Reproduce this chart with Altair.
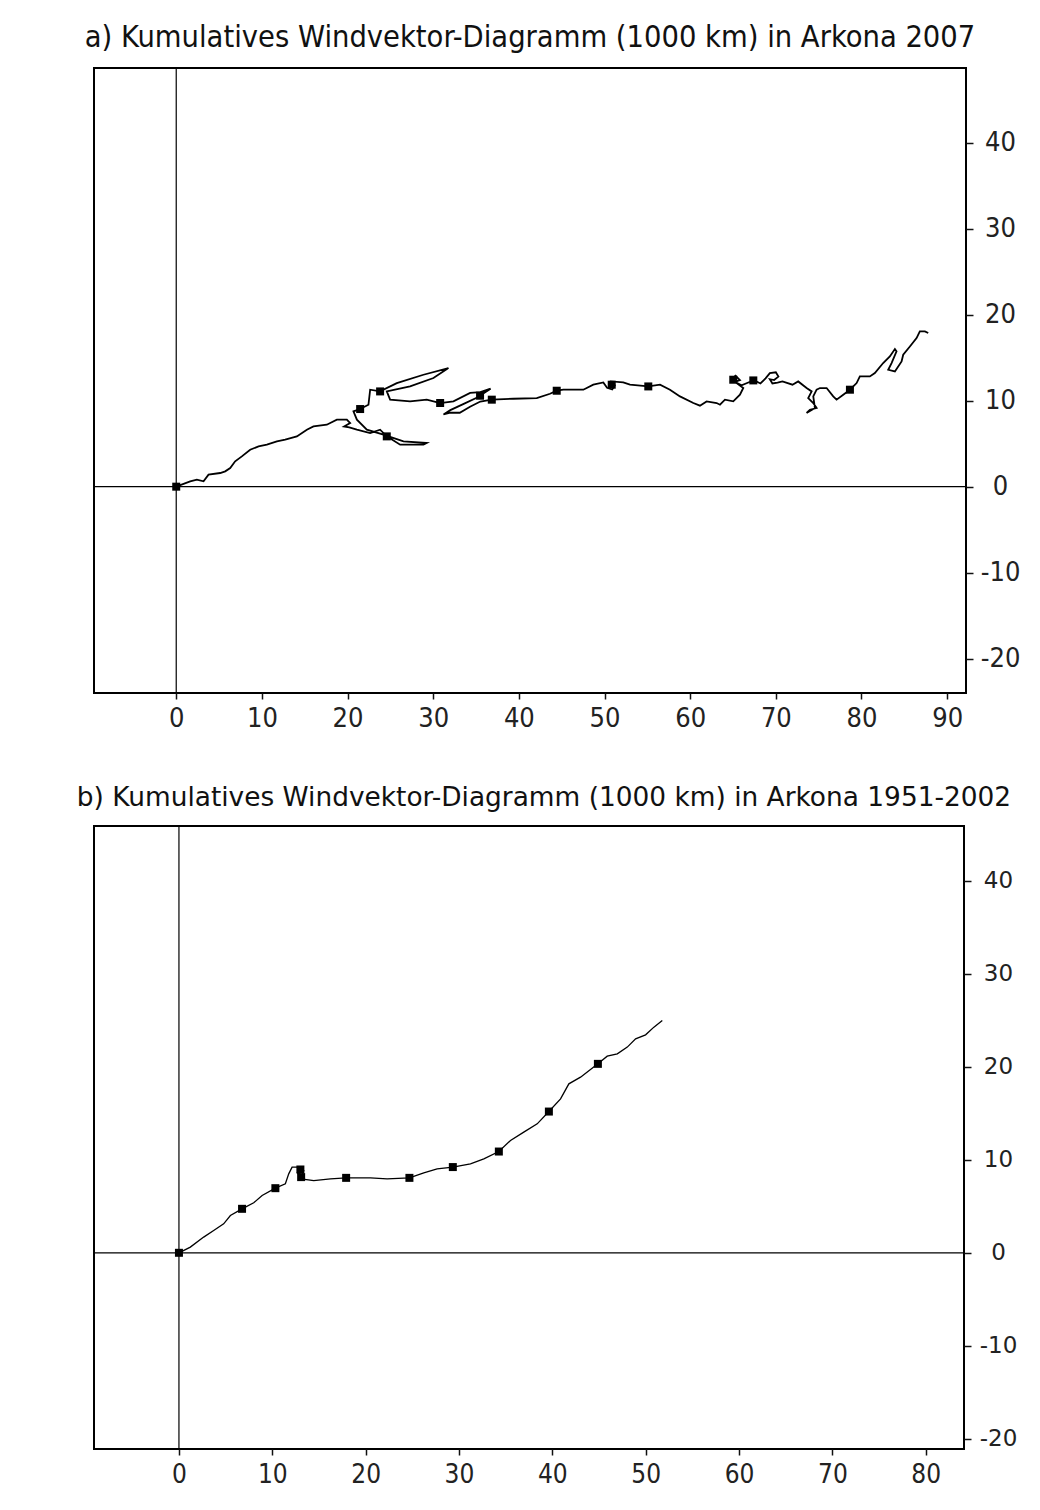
import altair as alt
import pandas as pd

# ---- a) Arkona 2007 : cumulative wind vector path (1000 km)
a_x = [0, 1.63, 2.41, 3.19, 3.77, 5.13, 5.72, 6.30, 6.88, 7.66, 8.63, 9.61, 10.58, 11.75, 12.72,
       14.08, 15.25, 16.02, 17.58, 18.75, 19.92, 20.30, 19.6, 20.2, 21.09, 22.64, 23.80, 24.58,
       26.14, 28.86, 29.25, 26.53, 24.19, 22.25, 21.09, 20.69, 21.47, 22.44, 22.64, 23.80, 25.75,
       28.86, 31.78, 30.03, 27.30, 24.58, 24.97, 27.30, 29.25, 30.81, 32.36, 34.31, 35.5, 36.7,
       35.8, 35.2, 33.5, 32.0, 31.2, 32.0, 33.1, 34.3, 35.5, 36.84, 39.36, 42.09, 43.64, 44.42,
       45.19, 47.53, 48.69, 49.86, 50.3, 50.9, 51.2, 50.84, 52.19, 52.97, 55.11, 56.48, 57.64,
       58.81, 60.37, 61.14, 61.92, 63.09, 63.48, 64.06, 65.03, 65.81, 66.20, 65.5, 64.9, 65.3,
       65.8, 65.2, 66.0, 67.0, 67.4, 68.2, 68.8, 69.3, 70.0, 70.3, 69.8, 69.3, 69.6, 70.2, 70.77,
       71.94, 72.61, 73.59, 74.18, 73.78, 74.37, 74.76, 73.98, 73.59, 74.56, 74.37, 74.76, 75.15,
       75.93, 76.70, 77.09, 77.87, 78.65, 79.43, 79.81, 80.98, 81.56, 82.53, 83.31, 83.90, 84.09,
       83.51, 83.12, 83.90, 84.68, 84.87, 85.65, 86.43, 86.81, 87.40, 87.79]
a_y = [0, 0.62, 0.81, 0.62, 1.40, 1.59, 1.78, 2.17, 2.95, 3.52, 4.30, 4.69, 4.88, 5.27, 5.47,
       5.85, 6.63, 7.01, 7.21, 7.79, 7.79, 7.40, 7.0, 6.9, 6.63, 6.24, 6.63, 5.85,
       4.88, 4.88, 5.08, 5.27, 6.05, 6.63, 7.79, 8.76, 9.03, 9.53, 11.28, 11.08, 12.05,
       13.02, 13.80, 12.64, 11.66, 11.08, 10.12, 9.92, 10.12, 9.73, 9.92, 10.90, 11.0, 11.4,
       10.8, 10.4, 9.6, 8.9, 8.4, 8.6, 8.6, 9.3, 9.9, 10.12, 10.23, 10.31, 10.81, 11.16,
       11.28, 11.28, 11.86, 12.13, 11.5, 11.3, 11.8, 12.24, 12.13, 11.86, 11.66, 11.86, 11.28,
       10.50, 9.73, 9.42, 9.92, 9.73, 9.53, 10.12, 9.92, 10.70, 11.48, 12.0, 12.6, 12.9,
       12.4, 12.2, 11.8, 12.2, 12.4, 12.0, 12.6, 13.2, 13.3, 12.8, 12.4, 12.5, 12.0, 12.1, 12.24,
       11.86, 12.24, 11.47, 11.08, 10.31, 9.73, 9.15, 8.95, 8.57, 9.15, 10.50, 11.28, 11.47,
       11.47, 10.50, 10.12, 10.70, 11.28, 12.05, 12.83, 12.83, 13.22, 14.38, 15.15, 16.01, 15.74,
       14.38, 13.60, 13.41, 14.57, 15.35, 16.31, 17.29, 18.06, 18.06, 17.87]
a_mx = [0, 21.47, 23.80, 24.58, 30.81, 35.47, 36.84, 44.42, 50.84, 55.11, 65.03, 67.37, 78.65]
a_my = [0, 9.03, 11.08, 5.85, 9.73, 10.58, 10.12, 11.16, 11.86, 11.66, 12.44, 12.36, 11.28]

# ---- b) Arkona 1951-2002
b_x = [0, 1.22, 2.65, 3.72, 4.79, 5.51, 6.76, 8.01, 8.91, 10.33, 11.40, 11.76, 12.12, 12.83,
       13.37, 13.19, 12.66, 13.09, 14.44, 16.23, 17.91, 20.51, 22.30, 24.69, 26.23, 27.66, 29.34,
       31.23, 32.66, 34.27, 35.52, 36.94, 38.38, 39.63, 40.88, 41.77, 43.02, 44.88, 45.88, 46.96,
       48.03, 48.92, 49.99, 50.88, 51.78]
b_y = [0, 0.61, 1.69, 2.40, 3.12, 4.01, 4.73, 5.38, 6.16, 6.95, 7.42, 8.49, 9.21, 9.21,
       8.85, 8.31, 8.68, 7.96, 7.77, 7.96, 8.06, 8.06, 7.96, 8.06, 8.60, 9.03, 9.22,
       9.57, 10.11, 10.89, 12.08, 12.98, 13.87, 15.19, 16.56, 18.17, 18.89, 20.32, 21.15, 21.40,
       22.12, 23.01, 23.44, 24.27, 24.98]
b_mx = [0, 6.76, 10.33, 13.01, 13.09, 17.91, 24.69, 29.34, 34.27, 39.63, 44.88]
b_my = [0, 4.73, 6.95, 8.96, 8.14, 8.06, 8.06, 9.22, 10.89, 15.19, 20.32]

a_xticks = [0, 10, 20, 30, 40, 50, 60, 70, 80, 90]
b_xticks = [0, 10, 20, 30, 40, 50, 60, 70, 80]
yticks = [-20, -10, 0, 10, 20, 30, 40]

title_a = "a) Kumulatives Windvektor-Diagramm (1000 km) in Arkona 2007"
title_b = "b) Kumulatives Windvektor-Diagramm (1000 km) in Arkona 1951-2002"

COND = "DejaVu Sans Condensed"
REG = "DejaVu Sans"


def panel(px, py, mx, my, xdom, ydom, xticks, w, h, title, tfont, tsize, tdx, xfont, xsize,
          yfont, ysize, lw):
    path = pd.DataFrame({"x": px, "y": py, "i": list(range(len(px)))})
    marks = pd.DataFrame({"x": mx, "y": my})
    vline = pd.DataFrame({"x": [0]})
    hline = pd.DataFrame({"y": [0]})
    xs = alt.Scale(domain=xdom, nice=False, zero=False)
    ys = alt.Scale(domain=ydom, nice=False, zero=False)
    xax = alt.Axis(values=xticks, grid=False, domain=False, tickSize=6, tickColor="#111",
                   tickWidth=1.5, labelFont=xfont, labelFontSize=xsize, labelColor="#222",
                   labelPadding=6, title=None, labelFlush=False,
                   labelExpr="'' + datum.value")
    yax = alt.Axis(values=yticks, orient="right", grid=False, domain=False, tickSize=7,
                   tickColor="#111", tickWidth=1.5, labelFont=yfont, labelFontSize=ysize,
                   labelColor="#222", labelAlign="center", labelPadding=27, title=None,
                   labelFlush=False, labelExpr="'' + datum.value")
    X = alt.X("x:Q", scale=xs, axis=xax)
    Y = alt.Y("y:Q", scale=ys, axis=yax)
    v = alt.Chart(vline).mark_rule(color="black", strokeWidth=1.2).encode(x=X)
    hz = alt.Chart(hline).mark_rule(color="black", strokeWidth=1.2).encode(y=Y)
    ln = alt.Chart(path).mark_line(color="black", strokeWidth=lw, strokeJoin="miter").encode(
        x=X, y=Y, order="i:Q")
    pt = alt.Chart(marks).mark_square(color="black", size=64, opacity=1).encode(x=X, y=Y)
    return alt.layer(v, hz, ln, pt).properties(
        width=w, height=h,
        title=alt.TitleParams(title, font=tfont, fontSize=tsize, fontWeight="normal",
                              color="#111", offset=14, anchor="middle", dx=tdx))


top = panel(a_x, a_y, a_mx, a_my, [-9.6, 92.2], [-24.0, 48.7], a_xticks, 872, 625, title_a,
            COND, 30.5, 0, COND, 27, COND, 27, 1.8)
bot = panel(b_x, b_y, b_mx, b_my, [-9.1, 84.1], [-21.1, 45.9], b_xticks, 870, 623, title_b,
            REG, 26.4, 15, COND, 26, REG, 23, 1.3)

chart = alt.vconcat(top, bot, spacing=52).properties(
    padding={"left": 67, "top": 13, "right": 0, "bottom": 4},
    background="white",
).configure_view(stroke="black", strokeWidth=2)

chart.save("out.html", embed_options={"renderer": "svg", "actions": False})
